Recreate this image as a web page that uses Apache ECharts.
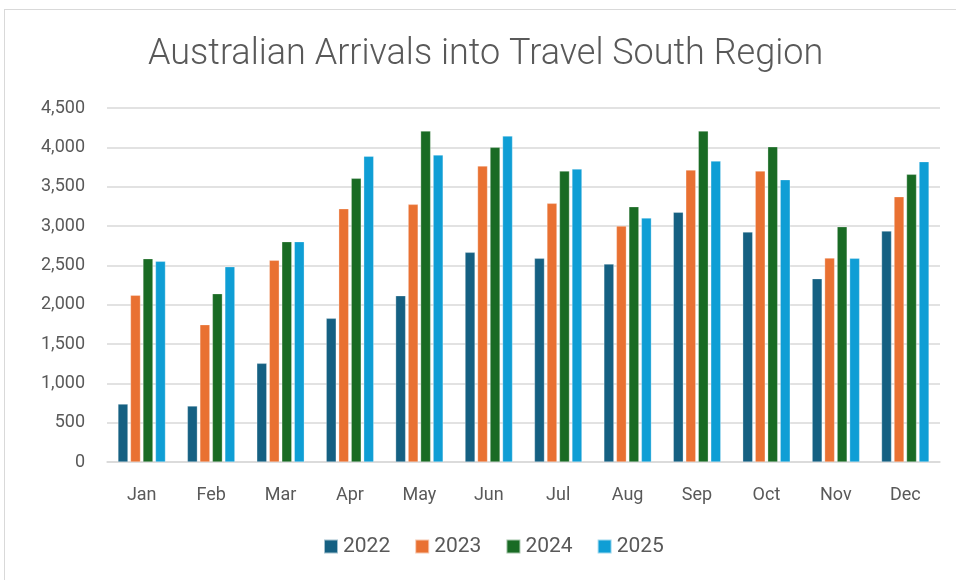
<!DOCTYPE html>
<html>
<head>
<meta charset="utf-8">
<script src="https://cdn.jsdelivr.net/npm/echarts@6/dist/echarts.min.js"></script>
<style>
  html, body { margin: 0; padding: 0; background: #fff; }
  #frame { position: absolute; left: 4px; top: 9px; width: 960px; height: 574px; border: 1px solid #d9d9d9; box-sizing: border-box; }
  #main { position: absolute; left: 0; top: 0; width: 956px; height: 580px; }
</style>
</head>
<body>
<div id="frame"></div>
<div id="main"></div>
<script>
var months = ["Jan", "Feb", "Mar", "Apr", "May", "Jun", "Jul", "Aug", "Sep", "Oct", "Nov", "Dec"];
var years = ["2022", "2023", "2024", "2025"];
var colors = ["#156082", "#E97132", "#196B24", "#0F9ED5"];

var arrivals2022 = [737, 712, 1254, 1826, 2114, 2665, 2589, 2517, 3174, 2924, 2331, 2936];
var arrivals2023 = [2119, 1746, 2564, 3220, 3275, 3763, 3288, 3000, 3712, 3699, 2593, 3373];
var arrivals2024 = [2585, 2140, 2801, 3606, 4208, 4000, 3699, 3246, 4208, 4008, 2992, 3657];
var arrivals2025 = [2551, 2483, 2801, 3886, 3903, 4144, 3725, 3102, 3826, 3589, 2589, 3818];

var seriesData = [arrivals2022, arrivals2023, arrivals2024, arrivals2025];

var textColor = "#595959";
var font = "Roboto";

var myChart = echarts.init(document.getElementById("main"));

var option = {
  animation: false,
  color: colors,
  title: {
    text: "Australian Arrivals into Travel South Region",
    left: 143,
    top: 32,
    textStyle: { fontFamily: font, fontWeight: 300, fontSize: 36, color: textColor }
  },
  legend: {
    data: years,
    bottom: 18,
    left: 318,
    itemWidth: 14,
    itemHeight: 14,
    itemGap: 24,
    icon: "rect",
    textStyle: { fontFamily: font, fontSize: 21, color: textColor }
  },
  grid: { left: 107, right: 16, top: 108, bottom: 118 },
  xAxis: {
    type: "category",
    data: months,
    axisTick: { show: false },
    axisLine: { lineStyle: { color: "#d9d9d9", width: 1.5 } },
    axisLabel: { fontFamily: font, fontSize: 18, color: textColor, margin: 24 }
  },
  yAxis: {
    type: "value",
    min: 0,
    max: 4500,
    interval: 500,
    axisLabel: {
      fontFamily: font, fontSize: 18, color: textColor, margin: 22,
      formatter: function (v) { return v.toLocaleString("en-US"); }
    },
    splitLine: { lineStyle: { color: "#d9d9d9", width: 1.5 } }
  },
  series: years.map(function (y, i) {
    return {
      name: y,
      type: "bar",
      data: seriesData[i],
      barWidth: 10,
      barGap: "25%",
      itemStyle: { borderColor: "rgba(255,255,255,0.6)", borderWidth: 0.5 }
    };
  })
};

myChart.setOption(option);
</script>
</body>
</html>
